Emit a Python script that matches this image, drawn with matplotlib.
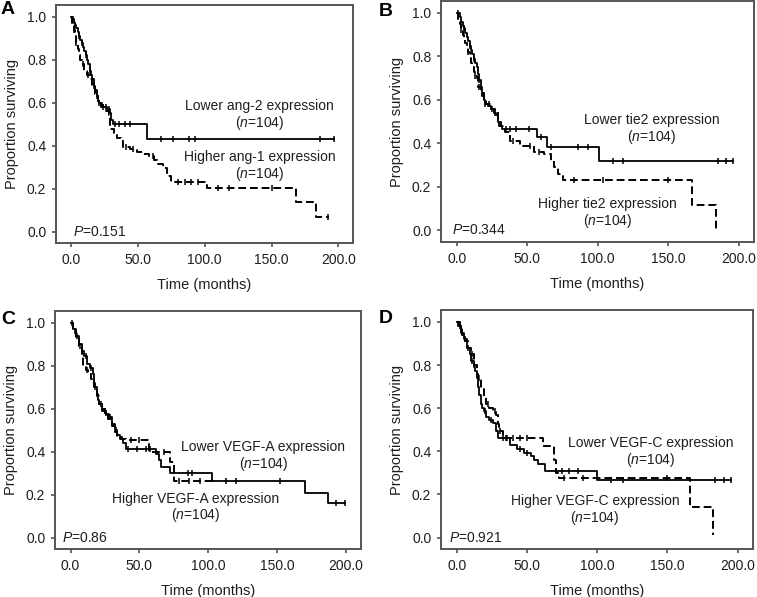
import numpy as np
import matplotlib
matplotlib.use("Agg")
import matplotlib.pyplot as plt

plt.rcParams['font.family'] = ['Liberation Sans', 'DejaVu Sans']
plt.rcParams['mathtext.fontset'] = 'custom'
plt.rcParams['mathtext.rm'] = 'Liberation Sans'
plt.rcParams['mathtext.it'] = 'Liberation Sans:italic'

# ---------------- data ----------------
# Panel A: ang-2 / ang-1
a_solid_t = [0, 1, 2, 3, 4, 5, 6, 7, 8, 9, 10, 11, 12, 13, 14, 15, 16, 17, 18, 19, 20, 21, 22, 24, 27, 29, 30, 31, 57, 197]
a_solid_s = [1.0, 0.99, 0.97, 0.96, 0.95, 0.93, 0.91, 0.89, 0.88, 0.86, 0.84, 0.82, 0.80, 0.78, 0.75, 0.73, 0.71, 0.68,
             0.66, 0.63, 0.61, 0.60, 0.59, 0.58, 0.57, 0.55, 0.52, 0.50, 0.43, 0.43]
a_solid_cens = [1.5, 3, 6, 8, 11, 14, 17, 19, 21, 23, 26, 28, 33, 36, 40, 44, 67, 76, 88, 93, 186, 197]
a_dash_t = [0, 1, 2, 3, 4, 5, 6, 7, 8, 10, 12, 14, 16, 18, 20, 22, 25, 28, 29, 32, 34, 37, 39, 44, 49, 54, 58, 62, 64,
            69, 72, 75, 102, 168, 183, 193]
a_dash_s = [1.0, 0.97, 0.94, 0.91, 0.88, 0.85, 0.82, 0.80, 0.78, 0.75, 0.73, 0.71, 0.68, 0.64, 0.61, 0.58, 0.56, 0.545,
            0.48, 0.46, 0.435, 0.42, 0.395, 0.385, 0.37, 0.36, 0.35, 0.335, 0.315, 0.295, 0.26, 0.23, 0.205, 0.137,
            0.068, 0.068]
a_dash_cens = [2, 4, 9, 13, 19, 24, 41, 46, 61, 80, 85, 90, 95, 110, 118, 150, 192]

# Panel B: tie2
b_solid_t = [0, 2, 3, 4, 5, 6, 7, 8, 9, 10, 11, 12, 13, 14, 15, 16, 17, 18, 19, 20, 22, 24, 26, 28, 29, 30, 32, 57,
             64, 101, 196]
b_solid_s = [1.0, 0.98, 0.96, 0.94, 0.93, 0.91, 0.89, 0.87, 0.85, 0.83, 0.81, 0.79, 0.77, 0.75, 0.72, 0.69, 0.66,
             0.62, 0.60, 0.58, 0.57, 0.56, 0.54, 0.53, 0.50, 0.48, 0.466, 0.43, 0.385, 0.32, 0.32]
b_solid_cens = [1, 5, 9, 12, 16, 20, 25, 27, 35, 38, 42, 51, 60, 67, 86, 93, 111, 118, 185, 191, 196]
b_dash_t = [0, 1, 2, 3, 4, 5, 6, 7, 8, 9, 10, 11, 12, 13, 14, 15, 17, 19, 21, 24, 27, 29, 31, 34, 38, 45, 55, 62,
            67, 69, 72, 75, 167, 184]
b_dash_s = [1.0, 0.97, 0.95, 0.92, 0.90, 0.88, 0.86, 0.84, 0.82, 0.80, 0.77, 0.75, 0.73, 0.71, 0.70, 0.66, 0.63,
            0.60, 0.58, 0.56, 0.55, 0.50, 0.48, 0.455, 0.41, 0.39, 0.36, 0.35, 0.32, 0.29, 0.26, 0.23, 0.115, 0.0]
b_dash_cens = [3, 8, 13, 16, 23, 40, 52, 58, 83, 104, 150]

# Panel C: VEGF-A
c_solid_t = [0, 2, 4, 6, 8, 10, 12, 14, 16, 17, 18, 19, 20, 21, 23, 26, 28, 30, 32, 34, 36, 38, 40, 62, 64, 66, 72,
             103, 170, 187, 199]
c_solid_s = [1.0, 0.97, 0.94, 0.90, 0.87, 0.845, 0.81, 0.79, 0.76, 0.72, 0.70, 0.67, 0.64, 0.62, 0.59, 0.575, 0.56,
             0.53, 0.50, 0.48, 0.46, 0.44, 0.413, 0.39, 0.36, 0.33, 0.30, 0.265, 0.21, 0.16, 0.16]
c_solid_cens = [1, 5, 11, 15, 22, 25, 29, 33, 42, 48, 55, 58, 85, 88, 113, 120, 152, 193, 199]
c_dash_t = [0, 2, 4, 6, 8, 9, 11, 13, 15, 17, 19, 21, 23, 25, 27, 30, 32, 34, 37, 40, 57, 72, 75, 104]
c_dash_s = [1.0, 0.96, 0.93, 0.89, 0.85, 0.80, 0.78, 0.76, 0.74, 0.70, 0.66, 0.62, 0.60, 0.58, 0.55, 0.52, 0.49,
            0.47, 0.46, 0.455, 0.40, 0.35, 0.265, 0.265]
c_dash_cens = [3, 7, 12, 18, 26, 44, 50, 68, 79, 86, 94]

# Panel D: VEGF-C
d_solid_t = [0, 1, 3, 5, 7, 9, 10, 12, 13, 14, 15, 16, 17, 18, 19, 21, 23, 26, 28, 29, 38, 43, 48, 53, 55, 58, 63,
             100, 195]
d_solid_s = [1.0, 0.98, 0.95, 0.92, 0.88, 0.85, 0.82, 0.79, 0.77, 0.74, 0.70, 0.66, 0.62, 0.60, 0.585, 0.56, 0.545,
             0.53, 0.495, 0.46, 0.43, 0.41, 0.39, 0.38, 0.36, 0.34, 0.31, 0.265, 0.265]
d_solid_cens = [2, 6, 8, 11, 20, 24, 33, 36, 45, 50, 75, 80, 86, 110, 118, 184, 190, 195]
d_dash_t = [0, 2, 4, 6, 8, 10, 12, 14, 15, 17, 19, 21, 23, 26, 28, 29.5, 30, 32.5, 61, 69, 70.3, 72.6, 166, 182.3]
d_dash_s = [1.0, 0.97, 0.94, 0.91, 0.88, 0.85, 0.80, 0.76, 0.74, 0.69, 0.65, 0.62, 0.60, 0.585, 0.57, 0.525, 0.495,
            0.46, 0.425, 0.36, 0.30, 0.275, 0.14, 0.01]
d_dash_cens = [3, 11, 16, 22, 27, 31, 35, 40, 45, 50, 76, 90, 150]

letters = ['A', 'B', 'C', 'D']
p_values = ['0.151', '0.344', '0.86', '0.921']
lower_labels = ['Lower ang-2 expression', 'Lower tie2 expression', 'Lower VEGF-A expression', 'Lower VEGF-C expression']
higher_labels = ['Higher ang-1 expression', 'Higher tie2 expression', 'Higher VEGF-A expression',
                 'Higher VEGF-C expression']
n_label = r'($\mathit{n}$=104)'

panels = [
    (a_solid_t, a_solid_s, a_solid_cens, a_dash_t, a_dash_s, a_dash_cens),
    (b_solid_t, b_solid_s, b_solid_cens, b_dash_t, b_dash_s, b_dash_cens),
    (c_solid_t, c_solid_s, c_solid_cens, c_dash_t, c_dash_s, c_dash_cens),
    (d_solid_t, d_solid_s, d_solid_cens, d_dash_t, d_dash_s, d_dash_cens),
]

# ---------------- layout ----------------
W, H = 757, 597
# axes boxes in pixels: left, right, top, bottom
boxes = [(56, 353, 5, 243), (441, 754, 1, 242), (55, 361, 311, 549), (441, 753, 310, 549)]
# label positions (data coords): lower label (x, y), higher label (x, y), P x
lower_pos = [(141, 0.587), (138.5, 0.51), (140, 0.42), (138, 0.437)]
higher_pos = [(141, 0.347), (107, 0.122), (91, 0.181), (98.5, 0.169)]
n_gap = [0.08, 0.079, 0.075, 0.076]
p_x = [1.5, -3.5, -6, -5.5]
letter_pos = [(1, 596), (379, 594), (1, 286), (379, 287)]

ink = '#1e1e1e'
fig = plt.figure(figsize=(W / 100, H / 100), dpi=100)


def surv_at(t, s, x):
    idx = np.searchsorted(np.asarray(t), np.asarray(x), side='right') - 1
    return np.asarray(s)[idx]


for i, (st, ss, sc, dt, ds, dc) in enumerate(panels):
    l, r, top, bot = boxes[i]
    ax = fig.add_axes([l / W, (H - bot) / H, (r - l) / W, (bot - top) / H])

    ax.step(st, ss, where='post', color='black', lw=1.3)
    ax.plot(sc, surv_at(st, ss, sc), ls='none', marker='|', ms=4, mew=1.1, color='black')
    ax.step(dt, ds, where='post', color='black', lw=1.4, dashes=(4, 2))
    ax.plot(dc, surv_at(dt, ds, dc), ls='none', marker='|', ms=4, mew=1.1, color='black')

    ax.set_xlim(-11.3, 210.9)
    ax.set_ylim(-0.053, 1.055)
    ax.set_xticks([0, 50, 100, 150, 200])
    ax.set_xticklabels(['0.0', '50.0', '100.0', '150.0', '200.0'])
    ax.set_yticks([0, 0.2, 0.4, 0.6, 0.8, 1.0])
    ax.set_yticklabels(['0.0', '0.2', '0.4', '0.6', '0.8', '1.0'])
    ax.tick_params(direction='out', length=3, width=1.1, color='#444444', labelsize=10,
                   labelcolor=ink)
    ax.tick_params(axis='x', pad=4)
    ax.tick_params(axis='y', pad=4)
    for sp in ax.spines.values():
        sp.set_color('#555555')
        sp.set_linewidth(1.4)

    ax.set_xlabel('Time (months)', fontsize=10.5, color=ink, labelpad=8)
    ax.set_ylabel('Proportion surviving', fontsize=10.5, color=ink, labelpad=6)

    lx, ly = lower_pos[i]
    hx, hy = higher_pos[i]
    ax.text(lx, ly, lower_labels[i], ha='center', va='center', fontsize=10, color=ink)
    ax.text(lx, ly - n_gap[i], n_label, ha='center', va='center', fontsize=10, color=ink)
    ax.text(hx, hy, higher_labels[i], ha='center', va='center', fontsize=10, color=ink)
    ax.text(hx, hy - n_gap[i], n_label, ha='center', va='center', fontsize=10, color=ink)
    ax.text(p_x[i], 0.0, r'$P$=' + p_values[i], ha='left', va='center', fontsize=10, color=ink)

    fx, fy = letter_pos[i]
    fig.text(fx / W, fy / H, letters[i], ha='left', va='top', fontsize=14, fontweight='bold', color='black')

fig.savefig('out.png', dpi=100)
